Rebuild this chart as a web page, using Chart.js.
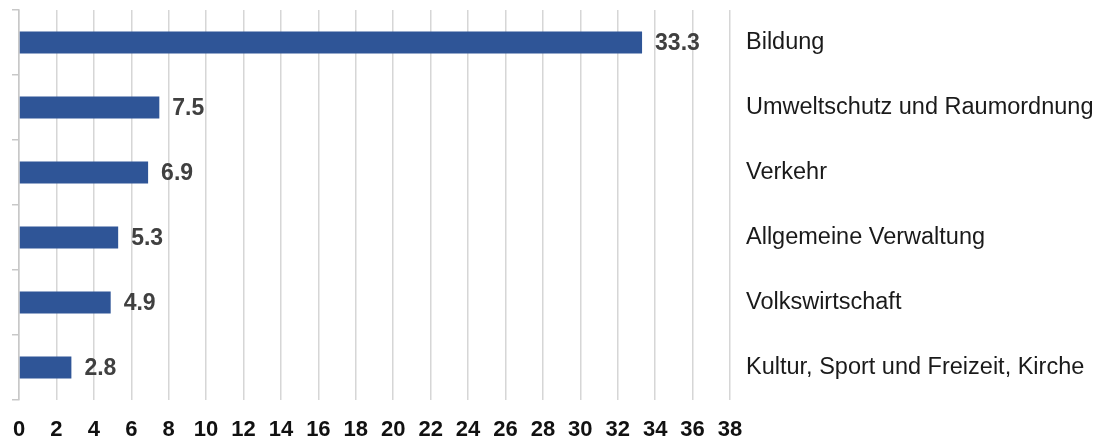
<!DOCTYPE html>
<html>
<head>
<meta charset="utf-8">
<script src="https://cdn.jsdelivr.net/npm/chart.js@4"></script>
<style>
  html, body { margin: 0; padding: 0; background: #fff; }
  #wrap { width: 1105px; height: 441px; }
</style>
</head>
<body>
<div id="wrap"><canvas id="chart" width="1105" height="441"></canvas></div>
<script>
var categories = ['Bildung', 'Umweltschutz und Raumordnung', 'Verkehr', 'Allgemeine Verwaltung', 'Volkswirtschaft', 'Kultur, Sport und Freizeit, Kirche'];
var values = [33.3, 7.5, 6.9, 5.3, 4.9, 2.8];
var xMin = 0;
var xMax = 38;
var xStep = 2;

var fontFamily = '"Liberation Sans", Arial, sans-serif';

// draw the value next to the end of each bar
var valueLabels = {
  id: 'valueLabels',
  afterDatasetsDraw: function(chart) {
    var ctx = chart.ctx;
    var meta = chart.getDatasetMeta(0);
    ctx.save();
    ctx.font = 'bold 23px ' + fontFamily;
    ctx.fillStyle = '#404040';
    ctx.textAlign = 'left';
    ctx.textBaseline = 'middle';
    meta.data.forEach(function(bar, i) {
      ctx.fillText(values[i].toFixed(1), bar.x + 13, bar.y + 1);
    });
    ctx.restore();
  }
};

// no extra space above / below the plot for the side labels
function noVertPadding(scale) {
  scale.paddingTop = 0;
  scale.paddingBottom = 0;
}

var ctx = document.getElementById('chart').getContext('2d');
new Chart(ctx, {
  type: 'bar',
  data: {
    labels: categories,
    datasets: [{
      data: values,
      backgroundColor: '#2f5597',
      barPercentage: 0.34,
      categoryPercentage: 1,
      yAxisID: 'y'
    }]
  },
  options: {
    indexAxis: 'y',
    responsive: false,
    animation: false,
    layout: { padding: { top: 10, left: 0, right: 0, bottom: 0 } },
    plugins: {
      legend: { display: false },
      tooltip: { enabled: false }
    },
    scales: {
      x: {
        min: xMin,
        max: xMax,
        border: { display: false },
        grid: { color: '#d6d6d6', lineWidth: 1.5, drawTicks: false },
        ticks: {
          stepSize: xStep,
          padding: 17,
          color: '#111',
          font: { family: fontFamily, size: 22, weight: 'bold' }
        },
        afterFit: function(scale) {
          scale.height = 41;
          scale.paddingLeft = 0;
          scale.paddingRight = 0;
        }
      },
      y: {
        position: 'left',
        offset: true,
        border: { display: true, color: '#c8c8c8', width: 1.5 },
        grid: { offset: true, drawOnChartArea: false, drawTicks: true, tickLength: 7, color: '#c8c8c8', lineWidth: 1.5 },
        ticks: { display: false },
        afterFit: function(scale) { scale.width = 19; noVertPadding(scale); }
      },
      y2: {
        type: 'category',
        labels: categories,
        position: 'right',
        offset: true,
        border: { display: false },
        grid: { display: false, drawTicks: false },
        ticks: {
          padding: 16,
          color: '#1a1a1a',
          font: { family: fontFamily, size: 23.5 }
        },
        afterFit: function(scale) { scale.width = 375; noVertPadding(scale); }
      }
    }
  },
  plugins: [valueLabels]
});
</script>
</body>
</html>
